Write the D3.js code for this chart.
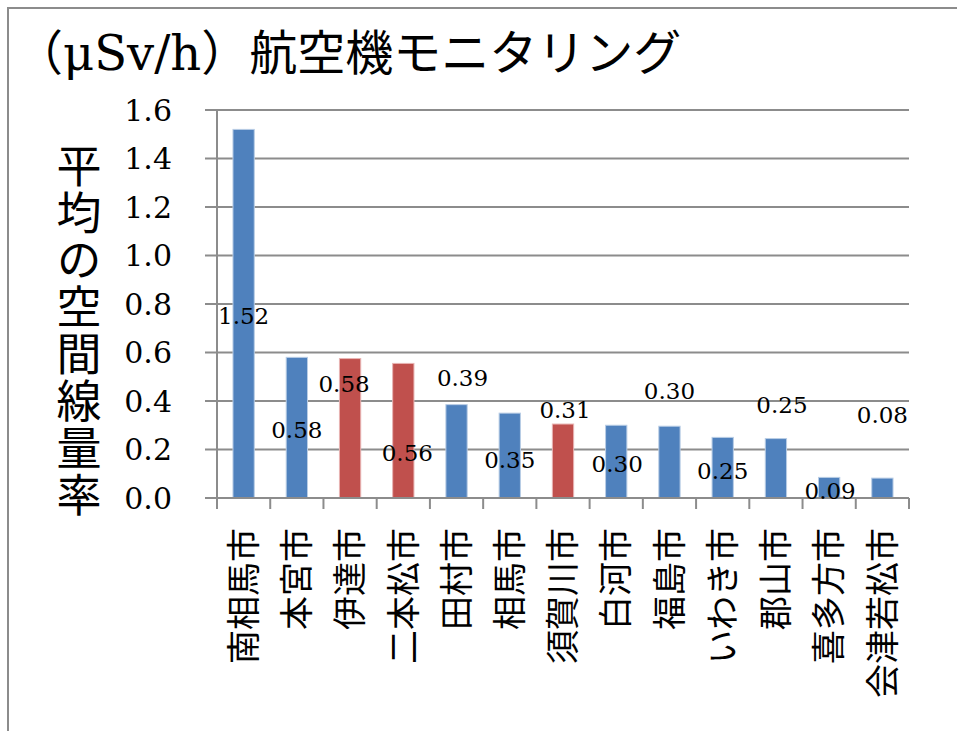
<!DOCTYPE html>
<html><head><meta charset="utf-8">
<script src="https://cdn.jsdelivr.net/npm/d3@7"></script>
<style>
html,body{margin:0;padding:0;background:#fff;}
svg{display:block;}
</style></head>
<body>
<svg id="chart" width="957" height="731"></svg>
<script>
const categories = ["南相馬市","本宮市","伊達市","二本松市","田村市","相馬市","須賀川市","白河市","福島市","いわき市","郡山市","喜多方市","会津若松市"];
const values = [1.52,0.58,0.575,0.555,0.385,0.35,0.305,0.30,0.296,0.25,0.245,0.085,0.082];
const valueLabels = ["1.52","0.58","0.58","0.56","0.39","0.35","0.31","0.30","0.30","0.25","0.25","0.09","0.08"];
const highlighted = [false,false,true,true,false,false,true,false,false,false,false,false,false];
const yTicks = [0,0.2,0.4,0.6,0.8,1.0,1.2,1.4,1.6];
const titleText = "（μSv/h）航空機モニタリング";
const yAxisTitle = "平均の空間線量率";

// label placement styling (pixel offsets from bar top / band centre)
const labelDy = [195,81,33,98,-19,55,-6,47,-27,42,-26,22,-55];
const labelDx = [0,0,-6,4,6,0,2,1,0,0,6,1,0];

const svg = d3.select("#chart");
const W = 957, H = 731;
const m = {left:217, right:909, top:110, bottom:498};

// outer frame
svg.append("path").attr("d", `M8,${H} L8,8 L${W},8`)
  .attr("fill","none").attr("stroke","#8c8c8c").attr("stroke-width",2);

const x = d3.scaleBand().domain(categories).range([m.left, m.right]).paddingInner(0).paddingOuter(0);
const y = d3.scaleLinear().domain([0,1.6]).range([m.bottom, m.top]);

const serif = "'DejaVu Serif', serif";
const cjk = "'Noto Sans CJK JP', sans-serif";

// gridlines
svg.append("g").selectAll("line").data(yTicks).join("line")
  .attr("x1", m.left-12).attr("x2", m.right)
  .attr("y1", d=>y(d)).attr("y2", d=>y(d))
  .attr("stroke","#8c8c8c").attr("stroke-width",2);

// y axis line
svg.append("line").attr("x1",m.left).attr("x2",m.left)
  .attr("y1",m.top).attr("y2",m.bottom)
  .attr("stroke","#8c8c8c").attr("stroke-width",2);

// y tick labels
svg.append("g").selectAll("text").data(yTicks).join("text")
  .attr("x", 172).attr("y", d=>y(d)).attr("dy","0.36em")
  .attr("text-anchor","end")
  .attr("font-family", serif).attr("font-size",30).attr("fill","#000")
  .text(d=>d3.format(".1f")(d));

// x tick marks
const xTickPos = categories.map(c=>x(c)).concat([m.right]);
svg.append("g").selectAll("line").data(xTickPos).join("line")
  .attr("x1",d=>d).attr("x2",d=>d).attr("y1",m.bottom).attr("y2",m.bottom+11)
  .attr("stroke","#8c8c8c").attr("stroke-width",2);

// bars
const bw = x.bandwidth()*0.4;
svg.append("g").selectAll("rect").data(categories).join("rect")
  .attr("x", (c)=>x(c)+x.bandwidth()/2-bw/2)
  .attr("width", bw)
  .attr("y", (c,i)=>y(values[i]))
  .attr("height", (c,i)=>y(0)-y(values[i]))
  .attr("fill", (c,i)=>highlighted[i] ? "#C0504D" : "#4F81BD")
  .attr("stroke", (c,i)=>highlighted[i] ? "#e8b4b3" : "#b9cde5")
  .attr("stroke-width",1);

// x axis baseline redraw on top
svg.append("line").attr("x1",m.left-12).attr("x2",m.right)
  .attr("y1",m.bottom).attr("y2",m.bottom)
  .attr("stroke","#8c8c8c").attr("stroke-width",2);

// data labels
svg.append("g").selectAll("text").data(categories).join("text")
  .attr("x",(c,i)=>x(c)+x.bandwidth()/2+labelDx[i])
  .attr("y",(c,i)=>y(values[i])+labelDy[i])
  .attr("text-anchor","middle")
  .attr("font-family", serif).attr("font-size",23).attr("fill","#000")
  .text((c,i)=>valueLabels[i]);

// x category labels (rotated)
svg.append("g").selectAll("text").data(categories).join("text")
  .attr("transform", c=>`translate(${x(c)+x.bandwidth()/2},528) rotate(-90)`)
  .attr("dy","0.36em")
  .attr("text-anchor","end")
  .attr("font-family", cjk).attr("font-size",34).attr("fill","#000")
  .text(c=>c);

// y axis title, vertical writing
svg.append("text")
  .attr("x",79).attr("y",143)
  .attr("writing-mode","vertical-rl")
  .style("writing-mode","vertical-rl")
  .attr("letter-spacing", 2.1)
  .attr("font-family", cjk).attr("font-size",45).attr("fill","#000")
  .text(yAxisTitle);

// title
svg.append("text").attr("x",15).attr("y",70)
  .attr("font-family", "'DejaVu Serif','Noto Sans CJK JP', serif")
  .attr("font-size",48).attr("fill","#000")
  .text(titleText);
</script>
</body></html>
